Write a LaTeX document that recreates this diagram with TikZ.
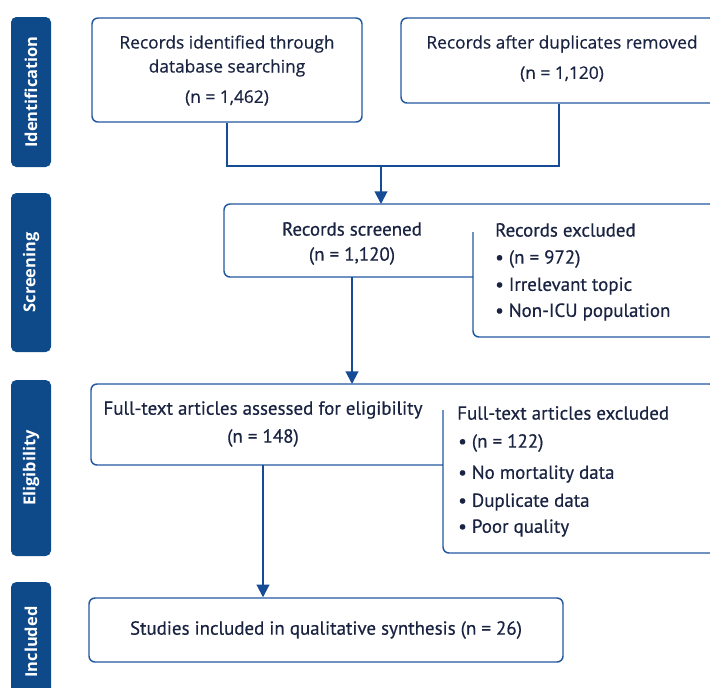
\documentclass[tikz,border=0pt]{standalone}
\usepackage{fontspec}
\setmainfont{PT Sans}
\newfontfamily\osans{Open Sans}
\newfontfamily\osansm[FakeBold=0.5]{Open Sans}
\newfontfamily\ptm[FakeBold=0.5]{PT Sans}
\usetikzlibrary{arrows.meta}
\definecolor{barc}{RGB}{14,74,138}
\definecolor{edgec}{RGB}{34,88,160}
\definecolor{ink}{RGB}{26,36,66}
\definecolor{arrowc}{RGB}{22,76,150}
\begin{document}
\begin{tikzpicture}[x=0.75pt,y=-0.75pt,
 sidebar/.style={fill=barc, rounded corners=4pt, rotate=90, inner sep=0pt,
   text=white, font=\osans\bfseries\fontsize{12.3}{14}\selectfont},
 box/.style={draw=edgec, line width=1.1pt, rounded corners=4.5pt, inner sep=0pt},
 outline/.style={draw=edgec, line width=1.1pt, rounded corners=4.5pt},
 toptxt/.style={text=ink, inner sep=0pt, font=\osansm\fontsize{13}{15}\selectfont},
 txt/.style={text=ink, inner sep=0pt, font=\ptm\fontsize{14.2}{16}\selectfont},
 ltxt/.style={txt, anchor=west},
 link/.style={draw=arrowc, line width=1.5pt},
 arr/.style={link, -{Triangle[length=9.5pt,width=9.5pt]}},
]
\useasboundingbox (0,0) rectangle (710,687);
\fill[white] (0,0) rectangle (710,687);

% side bars
\node[sidebar, minimum width=150*0.75pt, minimum height=40*0.75pt] (lid) at (31,92) {Identification};
\node[sidebar, minimum width=159*0.75pt, minimum height=40*0.75pt] (lscr) at (31,272.5) {Screening};
\node[sidebar, minimum width=176*0.75pt, minimum height=40*0.75pt] (lel) at (31,468) {Eligibility};
\node[sidebar, minimum width=120*0.75pt, minimum height=40*0.75pt] (lin) at (31,642) {Included};

% identification
\node[box, minimum width=270*0.75pt, minimum height=104*0.75pt] (A) at (227,70) {};
\node[toptxt] (a1) at (227,44) {Records identified through};
\node[toptxt] (a2) at (227,68) {database searching};
\node[toptxt] (a3) at (227,98) {(n = 1,462)};

\node[box, minimum width=315*0.75pt, minimum height=85*0.75pt] (B) at (558.5,60.5) {};
\node[toptxt] (b1) at (562,44) {Records after duplicates removed};
\node[toptxt] (b2) at (562,74) {(n = 1,120)};

\coordinate (J) at (381,165);
\coordinate (scrT) at (381,204);
\draw[link] (A.south) -- ++(0,43) -| (B.south);
\draw[arr] (J) -- (scrT);

% screening
\draw[outline] (473,232) -- (473,337) -- (716,337) -- (716,204) -- (224,204) -- (224,277) -- (473,277);
\node[txt] (s1) at (352,229) {Records screened};
\node[txt] (s2) at (352,256) {(n = 1,120)};
\node[ltxt] (e0) at (495,230) {Records excluded};
\node[ltxt] (e1) at (495,259) {• (n = 972)};
\node[ltxt] (e2) at (495,286) {• Irrelevant topic};
\node[ltxt] (e3) at (495,312) {• Non-ICU population};

\coordinate (scrB) at (352,277);
\coordinate (elT) at (352,384);
\draw[arr] (scrB) -- (elT);

% eligibility
\draw[outline] (443,410) -- (443,553) -- (716,553) -- (716,384) -- (91,384) -- (91,465) -- (443,465);
\node[txt] (f1) at (263,410) {Full-text articles assessed for eligibility};
\node[txt] (f2) at (263,438) {(n = 148)};
\node[ltxt] (x0) at (457,413) {Full-text articles excluded};
\node[ltxt] (x1) at (458,443) {• (n = 122)};
\node[ltxt] (x2) at (458,474) {• No mortality data};
\node[ltxt] (x3) at (458,502) {• Duplicate data};
\node[ltxt] (x4) at (458,528) {• Poor quality};

% included
\node[box, minimum width=474*0.75pt, minimum height=64*0.75pt] (I) at (326,630) {};
\node[txt] (i1) at (326,630) {Studies included in qualitative synthesis (n = 26)};
\coordinate (elB) at (263,465);
\draw[arr] (elB) -- (I.north -| elB);
\end{tikzpicture}
\end{document}
